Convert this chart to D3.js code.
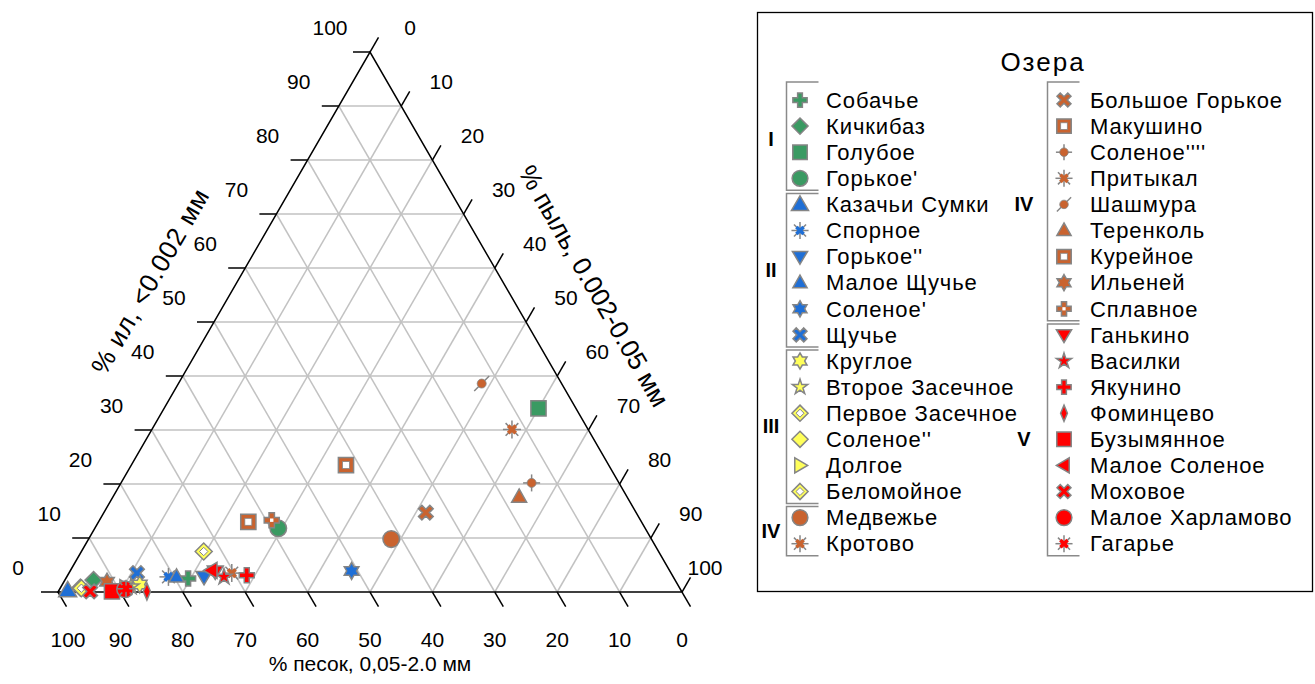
<!DOCTYPE html>
<html><head><meta charset="utf-8">
<script src="https://cdn.jsdelivr.net/npm/d3@7"></script>
<style>
html,body{margin:0;padding:0;background:#fff;}
svg{display:block;font-family:"Liberation Sans",Arial,sans-serif;}
</style></head>
<body><svg id="c" width="1315" height="684"></svg>
<script>
// ---------- data ----------
const lakes = ["Собачье","Кичкибаз","Голубое","Горькое'",
  "Казачьи Сумки","Спорное","Горькое''","Малое Щучье","Соленое'","Щучье",
  "Круглое","Второе Засечное","Первое Засечное","Соленое''","Долгое","Беломойное",
  "Медвежье","Кротово",
  "Большое Горькое","Макушино","Соленое''''","Притыкал","Шашмура","Теренколь","Курейное","Ильеней","Сплавное",
  "Ганькино","Василки","Якунино","Фоминцево","Бузымянное","Малое Соленое","Моховое","Малое Харламово","Гагарье"];
const groups = ["I","I","I","I","II","II","II","II","II","II","III","III","III","III","III","III","IV","IV",
  "IV","IV","IV","IV","IV","IV","IV","IV","IV","V","V","V","V","V","V","V","V","V"];
const shapes = ["plus","diamond","square","circle",
  "triUpBig","asterisk","triDown","triUp","star6","times",
  "star6","star5","hollowDiamond","diamond","triRight","hollowDiamond",
  "circle","asterisk",
  "times","hollowSquare","circleCross","asterisk","circleSlash","triUp","hollowSquare","star6","hollowPlus",
  "triDown","star5","plus","thinDiamond","square","triLeft","times","circle","asterisk"];
// % clay (<0.002 mm), % silt (0.002-0.05 mm), % sand (0.05-2.0 mm)
const clay = [2.5,2.2,34.0,11.8, 0.3,2.8,2.8,2.8,3.9,3.5, 1.4,1.0,7.5,0.8,0.8,0.7, 9.8,3.5,
  14.7,23.5,20.2,30.1,38.6,17.6,13.0,1.9,13.3, 3.8,2.8,3.1,0.1,0.1,4.0,0.1,0.5,0.6];
const silt = [19.6,4.6,60.0,29.4, 1.4,16.3,22.0,17.6,45.1,10.9, 12.4,11.2,19.6,3.2,10.4,3.4, 48.5,26.1,
  51.6,34.4,65.8,57.7,48.6,65.1,24.0,6.9,27.6, 23.3,25.2,28.7,14.2,8.6,22.6,5.1,10.5,10.6];
const sand = [77.9,93.2,6.0,58.8, 98.3,80.9,75.2,79.6,51.0,85.6, 86.2,87.8,72.9,96.0,88.8,95.9, 41.7,70.4,
  33.7,42.1,14.0,12.2,12.8,17.3,63.0,91.2,59.1, 72.9,72.0,68.2,85.7,91.3,73.4,94.8,89.0,88.8];
const groupNames = ["I","II","III","IV","V"];
const groupColors = ["#3a9a62","#1f6fd6","#ffff5a","#c9632f","#ff0000"];
const ticks = [0,10,20,30,40,50,60,70,80,90,100];
const legendTitle = "Озера";
const axisClay = "% ил, <0.002 мм", axisSilt = "% пыль, 0.002-0.05 мм", axisSand = "% песок, 0,05-2.0 мм";

// ---------- scales ----------
const svg = d3.select("#c");
const X = d3.scaleLinear().domain([0,100]).range([58,682]);   // silt + clay/2
const Y = d3.scaleLinear().domain([0,100]).range([592,52]);   // clay
const pt = (c,s) => [X(s + c/2), Y(c)];
const gridCol = "#c2c2c2", outline = "#858585";
const fontSize = 21;

// grid
const grid = svg.append("g");
for (const v of ticks.slice(1,-1)) {
  let a = pt(v,0), b = pt(v,100-v);
  grid.append("line").attr("x1",a[0]).attr("y1",a[1]).attr("x2",b[0]).attr("y2",b[1]);
  a = pt(0,v); b = pt(100-v,v);
  grid.append("line").attr("x1",a[0]).attr("y1",a[1]).attr("x2",b[0]).attr("y2",b[1]);
  a = pt(0,100-v); b = pt(100-v,0);
  grid.append("line").attr("x1",a[0]).attr("y1",a[1]).attr("x2",b[0]).attr("y2",b[1]);
}
grid.selectAll("line").attr("stroke",gridCol).attr("stroke-width",1.5);

// border
const A = pt(0,0), T = pt(100,0), R = pt(0,100);
svg.append("path").attr("d",`M${A}L${T}L${R}Z`).attr("fill","none").attr("stroke","#000").attr("stroke-width",1.5);

// ticks and labels
const tk = svg.append("g").attr("stroke","#000").attr("stroke-width",1.5);
const lab = svg.append("g").attr("font-size",fontSize).attr("fill","#000");
const tl = 17, c60 = 0.5, s60 = Math.sqrt(3)/2;
for (const v of ticks) {
  // left axis (clay)
  let p = pt(v,0);
  tk.append("line").attr("x1",p[0]).attr("y1",p[1]).attr("x2",p[0]-tl).attr("y2",p[1]);
  lab.append("text").attr("x",p[0]-40).attr("y",p[1]-24).attr("text-anchor","middle").attr("dy","0.35em").text(v);
  // right axis (silt)
  p = pt(100-v,v);
  tk.append("line").attr("x1",p[0]).attr("y1",p[1]).attr("x2",p[0]+tl*c60).attr("y2",p[1]-tl*s60);
  lab.append("text").attr("x",Math.min(p[0]+40, 705)).attr("y",p[1]-24).attr("text-anchor","middle").attr("dy","0.35em").text(v);
  // bottom axis (sand)
  p = pt(0,100-v);
  tk.append("line").attr("x1",p[0]).attr("y1",p[1]).attr("x2",p[0]+tl*c60).attr("y2",p[1]+tl*s60);
  lab.append("text").attr("x",Math.max(p[0], 68)).attr("y",p[1]+48).attr("text-anchor","middle").attr("dy","0.35em").text(v);
}
// axis titles
const ttl = svg.append("g").attr("font-size",fontSize).attr("text-anchor","middle");
ttl.append("text").attr("transform","translate(150,281) rotate(-60)").attr("dy","0.35em")
  .attr("font-size",26).attr("letter-spacing",0.8).text(axisClay);
ttl.append("text").attr("transform","translate(594,286) rotate(60)").attr("dy","0.35em")
  .attr("font-size",26).text(axisSilt);
ttl.append("text").attr("x",370).attr("y",664).attr("dy","0.35em").text(axisSand);

// ---------- markers ----------
function poly(pts){ return "M" + pts.map(p=>p.join(",")).join("L") + "Z"; }
function drawMarker(g, shape, color, k) {
  const sw = 1.5;
  const add = (d, fill) => g.append("path").attr("d",d).attr("fill",fill).attr("stroke",outline).attr("stroke-width",sw).attr("stroke-linejoin","miter");
  switch (shape) {
    case "plus": { const w = 2.5*k, L = 7.5*k;
      add(poly([[-w,-L],[w,-L],[w,-w],[L,-w],[L,w],[w,w],[w,L],[-w,L],[-w,w],[-L,w],[-L,-w],[-w,-w]]), color); break; }
    case "hollowPlus": { const w = 2.7*k, L = 7.5*k;
      add(poly([[-w,-L],[w,-L],[w,-w],[L,-w],[L,w],[w,w],[w,L],[-w,L],[-w,w],[-L,w],[-L,-w],[-w,-w]]), color);
      g.append("rect").attr("x",-1.7*k).attr("y",-1.7*k).attr("width",3.4*k).attr("height",3.4*k).attr("fill","#fff"); break; }
    case "diamond": add(poly([[0,-8.5*k],[8.5*k,0],[0,8.5*k],[-8.5*k,0]]), color); break;
    case "thinDiamond": add(poly([[0,-8.5*k],[3.6*k,0],[0,8.5*k],[-3.6*k,0]]), color); break;
    case "hollowDiamond":
      add(poly([[0,-8.5*k],[8.5*k,0],[0,8.5*k],[-8.5*k,0]]), color);
      g.append("path").attr("d",poly([[0,-4.2*k],[4.2*k,0],[0,4.2*k],[-4.2*k,0]])).attr("fill","#fff").attr("stroke",outline).attr("stroke-width",1); break;
    case "square": add(poly([[-7.6*k,-7.6*k],[7.6*k,-7.6*k],[7.6*k,7.6*k],[-7.6*k,7.6*k]]), color); break;
    case "hollowSquare":
      add(poly([[-7.6*k,-7.6*k],[7.6*k,-7.6*k],[7.6*k,7.6*k],[-7.6*k,7.6*k]]), color);
      g.append("rect").attr("x",-3.5*k).attr("y",-3.5*k).attr("width",7*k).attr("height",7*k).attr("fill","#fff").attr("stroke",outline).attr("stroke-width",0.8); break;
    case "circle": g.append("circle").attr("r",8.3*k).attr("fill",color).attr("stroke",outline).attr("stroke-width",sw); break;
    case "triUp": add(poly([[0,-8*k],[7.5*k,5.2*k],[-7.5*k,5.2*k]]), color); break;
    case "triUpBig": add(poly([[0,-9*k],[9*k,6.3*k],[-9*k,6.3*k]]), color); break;
    case "triDown": add(poly([[0,8*k],[8*k,-5.5*k],[-8*k,-5.5*k]]), color); break;
    case "triRight": add(poly([[8*k,0],[-5.5*k,-8*k],[-5.5*k,8*k]]), color); break;
    case "triLeft": add(poly([[-8*k,0],[5.5*k,-8*k],[5.5*k,8*k]]), color); break;
    case "star5": add(d3.symbol(d3.symbolStar, 80*k*k)(), color); break;
    case "star6": { const R1 = 8.5*k, R2 = 4.9*k, pts = [];
      for (let i=0;i<12;i++){ const ang = -Math.PI/2 + i*Math.PI/6, rr = i%2? R2:R1; pts.push([rr*Math.cos(ang), rr*Math.sin(ang)]); }
      add(poly(pts), color); break; }
    case "times": { const w = 2.4*k, L = 8*k, pts = [[-w,-L],[w,-L],[w,-w],[L,-w],[L,w],[w,w],[w,L],[-w,L],[-w,w],[-L,w],[-L,-w],[-w,-w]];
      const rot = pts.map(([x,y]) => [(x-y)*Math.SQRT1_2, (x+y)*Math.SQRT1_2]);
      add(poly(rot), color); break; }
    case "asterisk": {
      for (let i=0;i<8;i++){ const ang = i*Math.PI/4; g.append("line").attr("x1",0).attr("y1",0).attr("x2",9*k*Math.cos(ang)).attr("y2",9*k*Math.sin(ang)).attr("stroke",outline).attr("stroke-width",1.5); }
      const w = 1.9*k, L = 5.3*k, pts = [[-w,-L],[w,-L],[w,-w],[L,-w],[L,w],[w,w],[w,L],[-w,L],[-w,w],[-L,w],[-L,-w],[-w,-w]];
      const rot = pts.map(([x,y]) => [(x-y)*Math.SQRT1_2, (x+y)*Math.SQRT1_2]);
      g.append("path").attr("d",poly(rot)).attr("fill",color); break; }
    case "circleCross":
      g.append("line").attr("x1",-8.5*k).attr("x2",8.5*k).attr("y1",0).attr("y2",0).attr("stroke",outline).attr("stroke-width",1.5);
      g.append("line").attr("y1",-8.5*k).attr("y2",8.5*k).attr("x1",0).attr("x2",0).attr("stroke",outline).attr("stroke-width",1.5);
      g.append("circle").attr("r",4.5*k).attr("fill",color).attr("stroke",outline).attr("stroke-width",0.8); break;
    case "circleSlash":
      g.append("line").attr("x1",-7.5*k).attr("y1",7.5*k).attr("x2",7.5*k).attr("y2",-7.5*k).attr("stroke",outline).attr("stroke-width",1.5);
      g.append("circle").attr("r",4.5*k).attr("fill",color).attr("stroke",outline).attr("stroke-width",0.8); break;
  }
}
const colorOf = i => groupColors[groupNames.indexOf(groups[i])];

const marks = svg.append("g");
lakes.forEach((name,i) => {
  const [x,y] = pt(clay[i], silt[i]);
  const g = marks.append("g").attr("transform",`translate(${x},${y})`);
  drawMarker(g, shapes[i], colorOf(i), 1);
});

// ---------- legend ----------
const leg = svg.append("g");
leg.append("rect").attr("x",757.5).attr("y",12.5).attr("width",555).attr("height",579).attr("fill","none").attr("stroke","#000").attr("stroke-width",1.3);
leg.append("text").attr("x",1043).attr("y",62).attr("dy","0.35em").attr("text-anchor","middle").attr("font-size",26).attr("letter-spacing",2).text(legendTitle);
const rowH = 26.1, row0 = 100, perCol = 18;
const colMarkX = [800, 1064], colTextX = [826, 1090], colBrX = [786.5, 1047.5], colLabX = [771, 1024];
lakes.forEach((name,i) => {
  const col = Math.floor(i/perCol), r = i%perCol, y = row0 + r*rowH;
  const g = leg.append("g").attr("transform",`translate(${colMarkX[col]},${y})`);
  drawMarker(g, shapes[i], colorOf(i), 0.95);
  leg.append("text").attr("x",colTextX[col]).attr("y",y).attr("dy","0.35em").attr("font-size",22).attr("letter-spacing",0.9).text(name);
});
// group brackets
const segs = [];
lakes.forEach((n,i) => {
  const col = Math.floor(i/perCol), r = i%perCol;
  const last = segs[segs.length-1];
  if (last && last.g === groups[i] && last.col === col) last.r1 = r; else segs.push({g:groups[i], col, r0:r, r1:r});
});
segs.forEach(s => {
  const top = row0 + s.r0*rowH - (s.r0===0 ? 18 : 11), bot = row0 + s.r1*rowH + 12, x = colBrX[s.col];
  leg.append("path").attr("d",`M${x+32},${top}H${x}V${bot}H${x+32}`).attr("fill","none").attr("stroke","#8a8a8a").attr("stroke-width",1.5);
  leg.append("text").attr("x",colLabX[s.col]).attr("y",(row0 + (s.r0+s.r1)/2*rowH)).attr("dy","0.35em").attr("text-anchor","middle")
    .attr("font-size",20).attr("font-weight","bold").text(s.g);
});
</script></body></html>
